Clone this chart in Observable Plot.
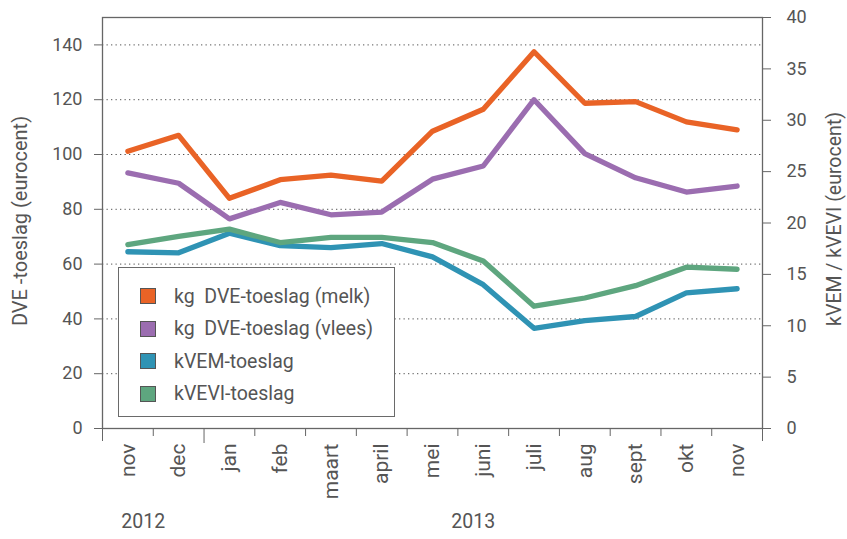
<!DOCTYPE html>
<html>
<head>
<meta charset="utf-8">
<script src="https://cdn.jsdelivr.net/npm/d3@7"></script>
<script src="https://cdn.jsdelivr.net/npm/@observablehq/plot@0.6"></script>
<style>
  html, body { margin: 0; padding: 0; background: #fff; }
  #chart { position: relative; width: 847px; height: 539px; font-family: Roboto, "Noto Sans", sans-serif; color: #555; }
  #legend { position: absolute; left: 118px; top: 267px; width: 275px; height: 148px; border: 1.5px solid #6a6a6a; background: #fff; box-sizing: content-box; }
  .item { position: absolute; left: 21px; height: 20px; display: flex; align-items: center; font-size: 19.5px; color: #555; white-space: pre; }
  .sw { width: 14px; height: 14px; border: 1.2px solid #555; margin-right: 18px; }
</style>
</head>
<body>
<div id="chart"></div>
<script>
// Months (Nov 2012 – Nov 2013)
const months = ["nov","dec","jan","feb","maart","april","mei","juni","juli","aug","sept","okt","nov"];
const years = ["2012","2013"];
const yearStart = [0, 2];
const yearEnd = [2, 13];

// Left axis series (eurocent)
const dveMelk  = [101.2, 107.0, 84.0, 90.8, 92.5, 90.3, 108.5, 116.5, 137.5, 118.7, 119.3, 111.9, 109.0];
const dveVlees = [93.3, 89.5, 76.5, 82.5, 78.0, 79.0, 91.0, 95.8, 120.0, 100.3, 91.5, 86.3, 88.5];
// Right axis series (eurocent)
const kvem  = [17.2, 17.1, 19.0, 17.8, 17.6, 18.0, 16.7, 14.0, 9.75, 10.5, 10.9, 13.2, 13.6];
const kvevi = [17.9, 18.7, 19.4, 18.1, 18.6, 18.6, 18.1, 16.3, 11.9, 12.7, 13.9, 15.7, 15.5];

const seriesNames = ["kg  DVE-toeslag (melk)", "kg  DVE-toeslag (vlees)", "kVEM-toeslag", "kVEVI-toeslag"];
const colors = ["#E96326", "#9B6DB0", "#2F93B4", "#5EA67F"];

const leftTicks = [0, 20, 40, 60, 80, 100, 120, 140];
const rightTicks = [0, 5, 10, 15, 20, 25, 30, 35, 40];
const leftMax = 150, rightMax = 40;
const ratio = leftMax / rightMax;

const rows = [];
[[dveMelk, 1], [dveVlees, 1], [kvem, ratio], [kvevi, ratio]].forEach(([arr, k], s) => {
  arr.forEach((v, i) => rows.push({series: seriesNames[s], x: i + 0.5, y: v * k}));
});

const plot = Plot.plot({
  width: 847,
  height: 539,
  marginTop: 17,
  marginBottom: 111,
  marginLeft: 102,
  marginRight: 85,
  x: {type: "linear", domain: [0, months.length]},
  y: {domain: [0, leftMax]},
  color: {domain: seriesNames, range: colors},
  style: {fontFamily: "Roboto, 'Noto Sans', sans-serif", color: "#555", background: "transparent"},
  marks: [
    Plot.gridY(leftTicks.filter(d => d > 0), {stroke: "#555", strokeOpacity: 1, strokeWidth: 1, strokeDasharray: "1.3,3.2"}),
    Plot.frame({stroke: "#666", strokeWidth: 1.3}),
    Plot.axisY(leftTicks, {anchor: "left", tickSize: 8, tickPadding: 12, fontSize: 18, stroke: "#666", label: null}),
    Plot.axisY(rightTicks.map(r => r * ratio), {anchor: "right", tickSize: 8, tickPadding: 16, fontSize: 18, stroke: "#666", label: null, tickFormat: d => Math.round(d / ratio)}),
    Plot.axisX(d3.range(1, months.length).filter(i => i !== 2), {tickSize: 8, stroke: "#666", tickFormat: () => "", label: null}),
    Plot.axisX([0, months.length], {tickSize: 13, stroke: "#666", tickFormat: () => "", label: null}),
    Plot.axisX([2], {tickSize: 15, stroke: "#666", tickFormat: () => "", label: null}),
    Plot.axisX(months.map((m, i) => i + 0.5), {tickSize: 0, tickPadding: 15, tickRotate: -90, fontSize: 21, tickFormat: d => months[Math.floor(d)], label: null}),
    Plot.text(years, {x: (d, i) => (yearStart[i] + yearEnd[i]) / 2, text: d => d, frameAnchor: "bottom", dx: -10, dy: 99, fontSize: 19.5, fill: "#555"}),
    Plot.text(["DVE -toeslag (eurocent)"], {text: d => d, frameAnchor: "left", textAnchor: "middle", rotate: -90, dx: -82, dy: -2, fontSize: 20, fill: "#555"}),
    Plot.text(["kVEM / kVEVI (eurocent)"], {text: d => d, frameAnchor: "right", textAnchor: "middle", rotate: -90, dx: 72, dy: -4, fontSize: 19.5, fill: "#555"}),
    Plot.line(rows, {x: "x", y: "y", z: "series", stroke: "series", strokeWidth: 5.3, strokeLinecap: "round", strokeLinejoin: "round"})
  ]
});

const chart = document.getElementById("chart");
chart.appendChild(plot);

const legend = document.createElement("div");
legend.id = "legend";
seriesNames.forEach((name, i) => {
  const it = document.createElement("div");
  it.className = "item";
  it.style.top = (18 + i * 32.5) + "px";
  const sw = document.createElement("span");
  sw.className = "sw";
  sw.style.background = colors[i];
  const t = document.createElement("span");
  t.textContent = name;
  it.appendChild(sw);
  it.appendChild(t);
  legend.appendChild(it);
});
chart.appendChild(legend);
</script>
</body>
</html>
